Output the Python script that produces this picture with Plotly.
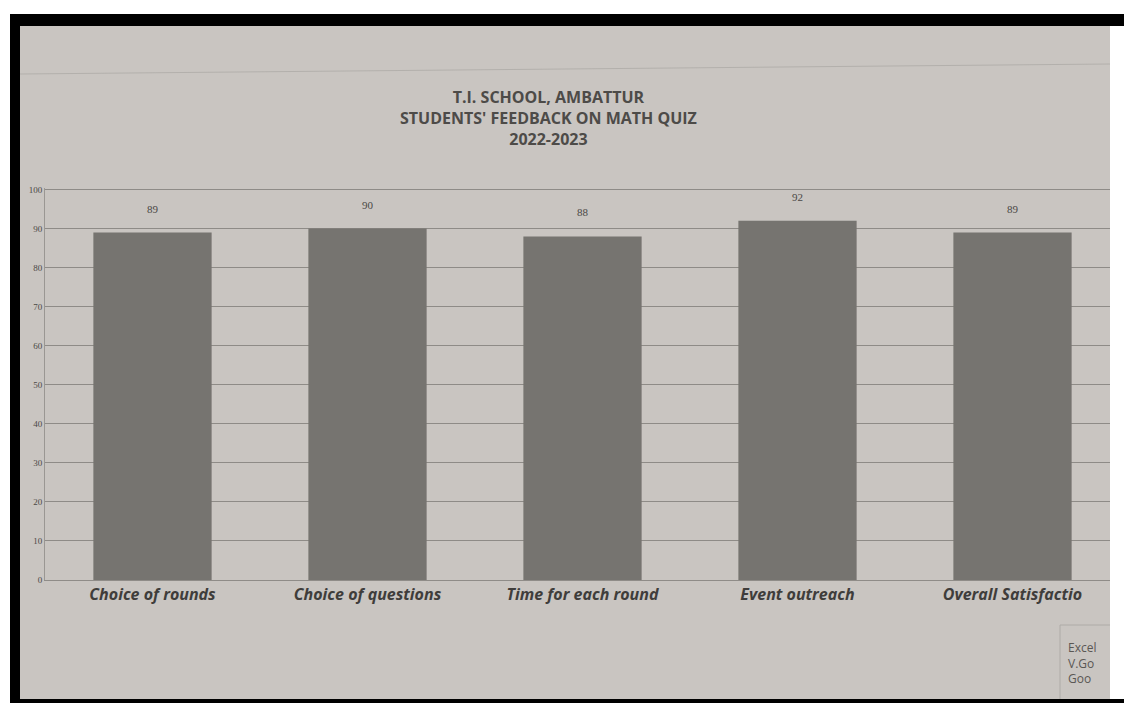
import plotly.graph_objects as go

categories = ["Choice of rounds", "Choice of questions", "Time for each round",
              "Event outreach", "Overall Satisfactio"]
scores = [89, 90, 88, 92, 89]
y_ticks = [0, 10, 20, 30, 40, 50, 60, 70, 80, 90, 100]
legend_stub = ["Excel", "V.Go", "Goo"]

W, H = 1124, 703
M = dict(l=45, r=4, t=188, b=123)
PW, PH = W - M["l"] - M["r"], H - M["t"] - M["b"]


def px(x):  # page pixel -> paper x
    return (x - M["l"]) / PW


def py(y):  # page pixel (from top) -> paper y
    return (H - M["b"] - y) / PH


BG = "#c9c5c1"

fig = go.Figure(go.Bar(
    x=categories, y=scores, width=0.55,
    marker=dict(color="#767470", line=dict(width=0)),
))

for cat, val in zip(categories, scores):
    fig.add_annotation(x=cat, y=val, text=str(val), showarrow=False, yshift=24,
                       font=dict(size=11, color="#4a4845", family="Liberation Serif"))

fig.add_annotation(
    x=px(548), y=py(118), xref="paper", yref="paper", showarrow=False,
    xanchor="center", yanchor="middle",
    text="<b>T.I. SCHOOL, AMBATTUR<br>STUDENTS' FEEDBACK ON MATH QUIZ<br>2022-2023</b>",
    font=dict(size=16, color="#4d4b48", family="Open Sans"), align="center",
)
fig.add_annotation(
    x=px(1066), y=py(663), xref="paper", yref="paper", showarrow=False,
    xanchor="left", yanchor="middle", align="left", text="<br>".join(legend_stub),
    font=dict(size=12, color="#5a5754", family="Open Sans"),
)

shapes = [
    # faint page edge line above the title
    dict(type="line", x0=px(20), x1=px(1110), y0=py(74), y1=py(64), line=dict(color="#b3b0ac", width=1)),
    # legend box fragment
    dict(type="rect", x0=px(1060), x1=px(1120), y0=py(702), y1=py(625), line=dict(color="#aeaba7", width=1)),
    # photo border: white strips, black edges
    dict(type="rect", x0=px(1110), x1=px(W), y0=py(H), y1=py(0), fillcolor="white", line=dict(width=0)),
    dict(type="rect", x0=px(0), x1=px(10), y0=py(H), y1=py(0), fillcolor="white", line=dict(width=0)),
    dict(type="rect", x0=px(0), x1=px(W), y0=py(14), y1=py(0), fillcolor="white", line=dict(width=0)),
    dict(type="rect", x0=px(10), x1=px(20), y0=py(H), y1=py(14), fillcolor="black", line=dict(width=0)),
    dict(type="rect", x0=px(10), x1=px(W), y0=py(26), y1=py(14), fillcolor="black", line=dict(width=0)),
    dict(type="rect", x0=px(10), x1=px(W), y0=py(H), y1=py(699), fillcolor="black", line=dict(width=0)),
]
for s in shapes:
    s.update(xref="paper", yref="paper", layer="above")
fig.update_layout(shapes=shapes)

fig.update_layout(
    width=W, height=H, margin=M, showlegend=False,
    paper_bgcolor=BG, plot_bgcolor=BG,
    xaxis=dict(showgrid=False, showline=True, linecolor="#8f8c88", ticks="",
               tickfont=dict(size=16, color="#3f3d3b", family="Open Sans"),
               tickangle=0),
    yaxis=dict(range=[0, 100.4], tickvals=y_ticks, showgrid=True, gridcolor="#8e8b87",
               gridwidth=1, zeroline=False, showline=True, linecolor="#9a9793",
               tickfont=dict(size=9, color="#4a4845", family="Liberation Serif")),
    font=dict(family="Open Sans"),
)
fig.update_xaxes(tickprefix="<b><i>", ticksuffix="</i></b>")

fig.write_html("out.html", config={"displayModeBar": False},
               post_script="document.body.style.margin='0';")
